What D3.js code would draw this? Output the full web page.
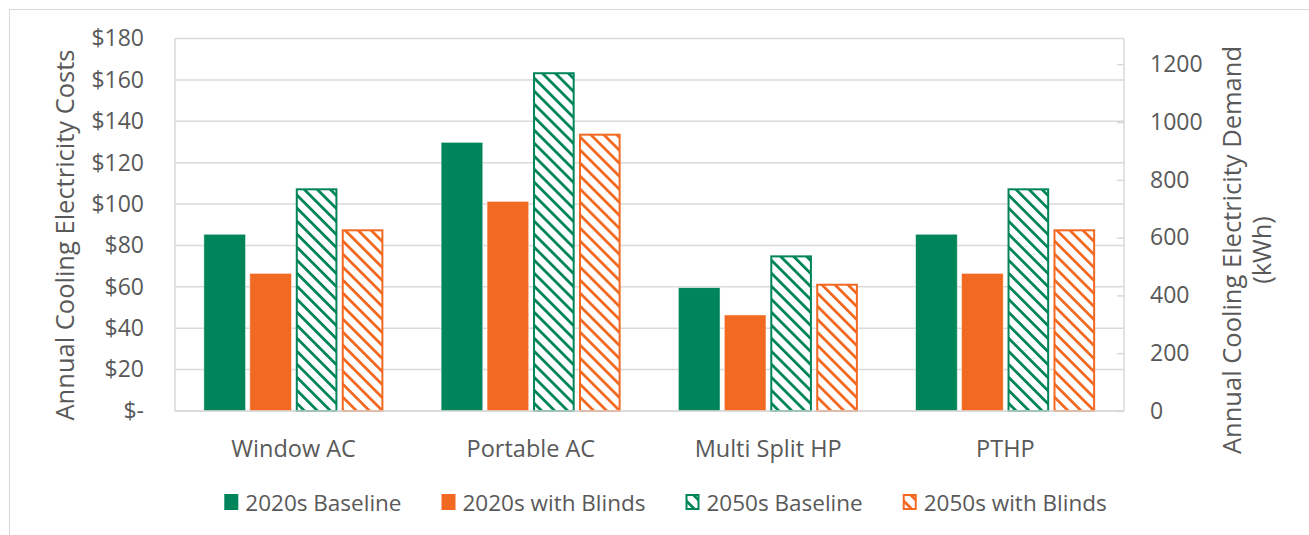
<!DOCTYPE html>
<html>
<head>
<meta charset="utf-8">
<script src="https://cdn.jsdelivr.net/npm/d3@7"></script>
<style>
  html, body { margin: 0; padding: 0; background: #fff; }
  svg { display: block; font-family: "Open Sans", "Noto Sans", sans-serif; }
</style>
</head>
<body>
<svg id="chart" width="1309" height="535"></svg>
<script>
// Cooling systems compared
const categories = ["Window AC", "Portable AC", "Multi Split HP", "PTHP"];
const seriesNames = ["2020s Baseline", "2020s with Blinds", "2050s Baseline", "2050s with Blinds"];
// Annual cooling electricity cost ($) per system, one array per scenario
const baseline2020 = [85.4, 129.8, 59.6, 85.4];
const blinds2020   = [66.5, 101.3, 46.4, 66.5];
const baseline2050 = [107.6, 163.7, 75.2, 107.6];
const blinds2050   = [87.8, 134.0, 61.5, 87.8];
const costTicks = [0, 20, 40, 60, 80, 100, 120, 140, 160, 180];
const kwhTicks = [0, 200, 400, 600, 800, 1000, 1200];

const seriesValues = [baseline2020, blinds2020, baseline2050, blinds2050];
const seriesColors = ["#00845a", "#f26922", "#00845a", "#f26922"];
const seriesHatched = [false, false, true, true];

const svg = d3.select("#chart");
const textColor = "#595959";
const gridColor = "#d9d9d9";
const fontFamily = "'Open Sans', sans-serif";

const plot = { left: 175, right: 1124, top: 38.5, bottom: 411 };

// outer chart-area border
svg.append("rect")
  .attr("x", 9.5).attr("y", 9.5)
  .attr("width", 1320).attr("height", 540)
  .attr("fill", "none").attr("stroke", gridColor).attr("stroke-width", 1);

// hatch patterns (wide downward diagonal, top-left to bottom-right)
const defs = svg.append("defs");
["#00845a", "#f26922"].forEach((c, i) => {
  const p = defs.append("pattern")
    .attr("id", "hatch" + i)
    .attr("patternUnits", "userSpaceOnUse")
    .attr("width", 9.2).attr("height", 9.2)
    .attr("patternTransform", "rotate(-45)");
  p.append("rect").attr("width", 9.2).attr("height", 9.2).attr("fill", "#fff");
  p.append("rect").attr("x", 0).attr("y", 0).attr("width", 2.8).attr("height", 9.2).attr("fill", c);
});

const yCost = d3.scaleLinear().domain([0, 180]).range([plot.bottom, plot.top]);
const yKwh = d3.scaleLinear().domain([0, 1289]).range([plot.bottom, plot.top]);
const x0 = d3.scaleBand().domain(categories).range([plot.left, plot.right]).padding(0);
const groupWidth = 179.5;
const x1 = d3.scaleBand().domain(d3.range(seriesNames.length))
  .range([0, groupWidth]).paddingInner(0.094).paddingOuter(0);

// gridlines from the cost axis
svg.append("g")
  .selectAll("line")
  .data(costTicks)
  .join("line")
  .attr("x1", plot.left).attr("x2", plot.right)
  .attr("y1", d => yCost(d)).attr("y2", d => yCost(d))
  .attr("stroke", gridColor).attr("stroke-width", 1.5);

// left and right axis lines
svg.append("line")
  .attr("x1", plot.left).attr("x2", plot.left)
  .attr("y1", plot.top).attr("y2", plot.bottom)
  .attr("stroke", gridColor).attr("stroke-width", 1.5);
svg.append("line")
  .attr("x1", plot.right).attr("x2", plot.right)
  .attr("y1", plot.top).attr("y2", plot.bottom)
  .attr("stroke", gridColor).attr("stroke-width", 1.5);

// bars
const groups = svg.append("g")
  .selectAll("g")
  .data(categories)
  .join("g")
  .attr("transform", d => `translate(${x0(d) + (x0.bandwidth() - groupWidth) / 2},0)`);

groups.selectAll("rect")
  .data((cat, ci) => seriesValues.map((vals, si) => ({ si, v: vals[ci] })))
  .join("rect")
  .attr("x", d => x1(d.si) + (seriesHatched[d.si] ? 1 : 0))
  .attr("width", d => x1.bandwidth() - (seriesHatched[d.si] ? 2 : 0))
  .attr("y", d => yCost(d.v) + (seriesHatched[d.si] ? 1 : 0))
  .attr("height", d => plot.bottom - yCost(d.v) - (seriesHatched[d.si] ? 1 : 0))
  .attr("fill", d => seriesHatched[d.si] ? `url(#hatch${d.si === 2 ? 0 : 1})` : seriesColors[d.si])
  .attr("stroke", d => seriesHatched[d.si] ? seriesColors[d.si] : "#ffffff")
  .attr("stroke-opacity", d => seriesHatched[d.si] ? 1 : 0.6)
  .attr("stroke-width", d => seriesHatched[d.si] ? 2 : 0.75);

// bottom axis line
svg.append("line")
  .attr("x1", plot.left).attr("x2", plot.right)
  .attr("y1", plot.bottom).attr("y2", plot.bottom)
  .attr("stroke", gridColor).attr("stroke-width", 1.5);

// left axis (cost)
const leftAxis = d3.axisLeft(yCost)
  .tickValues(costTicks)
  .tickSize(0)
  .tickPadding(31)
  .tickFormat(d => d === 0 ? "$-" : "$" + d);
const gl = svg.append("g").attr("transform", `translate(${plot.left},0)`).call(leftAxis);
gl.select(".domain").remove();
gl.selectAll("text").attr("fill", textColor).style("font-size", "23px")
  .style("font-family", fontFamily);

// right axis (energy)
const rightAxis = d3.axisRight(yKwh)
  .tickValues(kwhTicks)
  .tickSize(-7)
  .tickPadding(26)
  .tickFormat(d3.format("d"));
const gr = svg.append("g").attr("transform", `translate(${plot.right},0)`).call(rightAxis);
gr.select(".domain").remove();
gr.selectAll("line").attr("stroke", gridColor).attr("stroke-width", 1.5);
gr.selectAll("text").attr("fill", textColor).style("font-size", "23px")
  .style("font-family", fontFamily);

// category axis
const bottomAxis = d3.axisBottom(x0).tickSize(0).tickPadding(29);
const gb = svg.append("g").attr("transform", `translate(0,${plot.bottom})`).call(bottomAxis);
gb.select(".domain").remove();
gb.selectAll("text").attr("fill", textColor).style("font-size", "23.5px")
  .style("font-family", fontFamily);

// axis titles
svg.append("text")
  .attr("transform", "translate(64,235) rotate(-90)")
  .attr("text-anchor", "middle").attr("dominant-baseline", "central")
  .attr("fill", textColor).style("font-size", "25.5px")
  .text("Annual Cooling Electricity Costs");

const rt = svg.append("text")
  .attr("transform", "translate(1247,250) rotate(-90)")
  .attr("text-anchor", "middle")
  .attr("fill", textColor).style("font-size", "25.5px");
rt.append("tspan").attr("x", 0).attr("dy", "-0.25em").text("Annual Cooling Electricity Demand");
rt.append("tspan").attr("x", 0).attr("dy", "1.18em").text("(kWh)");

// legend
const legend = svg.append("g");
const items = legend.selectAll("g").data(seriesNames).join("g");
items.append("rect")
  .attr("x", (d, i) => seriesHatched[i] ? 1 : 0)
  .attr("y", (d, i) => seriesHatched[i] ? -7 : -8)
  .attr("width", (d, i) => seriesHatched[i] ? 12 : 14)
  .attr("height", (d, i) => seriesHatched[i] ? 14 : 16)
  .attr("fill", (d, i) => seriesHatched[i] ? `url(#hatch${i === 2 ? 0 : 1})` : seriesColors[i])
  .attr("stroke", (d, i) => seriesHatched[i] ? seriesColors[i] : "none")
  .attr("stroke-width", 2);
items.append("text")
  .attr("x", 21).attr("y", 0)
  .attr("dominant-baseline", "central")
  .attr("fill", textColor).style("font-size", "22.5px")
  .text(d => d);

let cursor = 0;
const offsets = [];
items.each(function () {
  offsets.push(cursor);
  const w = d3.select(this).select("text").node().getComputedTextLength();
  cursor += 21 + w + 40;
});
const totalW = cursor - 40;
const legendStart = 665.5 - totalW / 2;
items.attr("transform", (d, i) => `translate(${legendStart + offsets[i]},502)`);
</script>
</body>
</html>
